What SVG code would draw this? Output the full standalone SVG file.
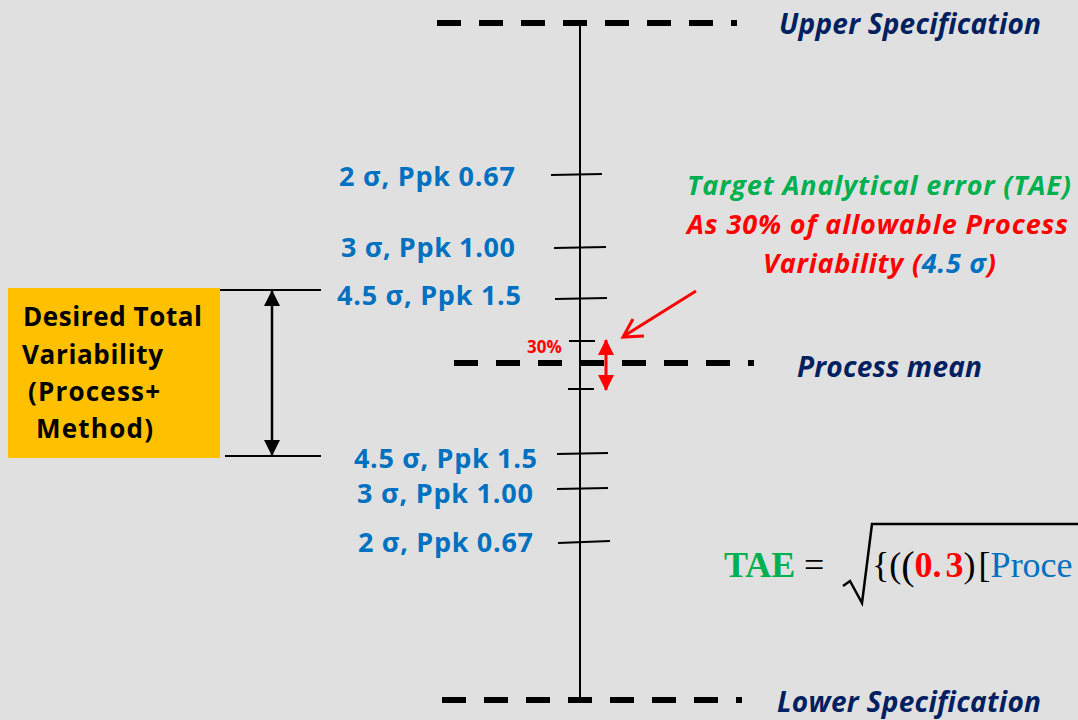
<svg xmlns="http://www.w3.org/2000/svg" width="1078" height="720" viewBox="0 0 1078 720">
<defs>
<style>
.dash{stroke:#000;stroke-width:6;stroke-dasharray:24 18;fill:none}
.ln{stroke:#000;stroke-width:2;fill:none}
.tick{stroke:#000;stroke-width:2;fill:none}
.spec{font-family:"Open Sans",sans-serif;font-weight:700;font-style:italic;font-size:28px;fill:#002060}
.lab{font-family:"Open Sans",sans-serif;font-weight:700;font-size:27px;fill:#0070C0}
.box{font-family:"Open Sans",sans-serif;font-weight:700;font-size:26px;fill:#000}
.note{font-family:"Open Sans",sans-serif;font-weight:700;font-style:italic;font-size:27px}
.math{font-family:"Liberation Serif","DejaVu Serif",serif;font-size:36px}
</style>
<marker id="bk" viewBox="0 0 16 16" refX="15" refY="8" markerWidth="16" markerHeight="16" markerUnits="userSpaceOnUse" orient="auto-start-reverse"><path d="M0,0 L16,8 L0,16 z" fill="#000"/></marker>
<marker id="rd" viewBox="0 0 16 16" refX="15" refY="8" markerWidth="16" markerHeight="16" markerUnits="userSpaceOnUse" orient="auto-start-reverse"><path d="M0,0 L16,8 L0,16 z" fill="#FF0000"/></marker>
</defs>
<rect width="1078" height="720" fill="#E0E0E0"/>

<g id="connectors">
<line class="ln" x1="580" y1="26" x2="580" y2="698"/>
<line class="dash" x1="437" y1="23" x2="737" y2="23"/>
<line class="dash" x1="454" y1="363" x2="754" y2="363"/>
<line class="dash" x1="442" y1="700" x2="742" y2="700"/>
<line class="tick" x1="551" y1="175" x2="602" y2="174"/>
<line class="tick" x1="554" y1="248" x2="606" y2="247"/>
<line class="tick" x1="555" y1="299" x2="607" y2="298"/>
<line class="tick" x1="569" y1="341" x2="595" y2="341"/>
<line class="tick" x1="568" y1="389" x2="594" y2="389"/>
<line class="tick" x1="557" y1="454" x2="608" y2="453"/>
<line class="tick" x1="557" y1="489" x2="608" y2="488"/>
<line class="tick" x1="558" y1="543" x2="610" y2="541"/>
<line class="ln" x1="220" y1="290" x2="321" y2="290"/>
<line class="ln" x1="225" y1="456" x2="321" y2="456"/>
<line stroke="#000" stroke-width="2.5" x1="272" y1="291" x2="272" y2="455" marker-start="url(#bk)" marker-end="url(#bk)"/>
<line stroke="#FF0000" stroke-width="3" x1="606" y1="340" x2="606" y2="390" marker-start="url(#rd)" marker-end="url(#rd)"/>
<path d="M696,291 L624,336 M633,319 L623,337 L644,336" stroke="#FF0000" stroke-width="3" fill="none" stroke-linejoin="miter"/>
</g>

<g id="spec-labels">
<text class="spec" x="779" y="34" textLength="262">Upper Specification</text>
<text class="spec" x="797" y="377" textLength="185">Process mean</text>
<text class="spec" x="777" y="712" textLength="264">Lower Specification</text>
</g>

<g id="sigma-labels">
<text class="lab" x="339" y="186" textLength="176">2 σ, Ppk 0.67</text>
<text class="lab" x="341" y="257" textLength="174">3 σ, Ppk 1.00</text>
<text class="lab" x="337" y="305" textLength="184">4.5 σ, Ppk 1.5</text>
<text class="lab" x="354" y="468" textLength="183">4.5 σ, Ppk 1.5</text>
<text class="lab" x="357" y="503" textLength="176">3 σ, Ppk 1.00</text>
<text class="lab" x="358" y="552" textLength="175">2 σ, Ppk 0.67</text>
</g>

<g id="desired-box">
<rect x="8" y="288" width="212" height="170" fill="#FFC000"/>
<text class="box" x="23" y="326" textLength="179">Desired Total</text>
<text class="box" x="22" y="364" textLength="141">Variability</text>
<text class="box" x="28" y="401" textLength="132">(Process+</text>
<text class="box" x="36" y="438" textLength="117">Method)</text>
</g>

<g id="pct-label">
<text x="527" y="353" font-family="Open Sans, sans-serif" font-weight="700" font-size="17" fill="#FF0000">30%</text>
</g>

<g id="tae-note">
<text class="note" x="687" y="195" fill="#00B050" textLength="384">Target Analytical error (TAE)</text>
<text class="note" x="687" y="234" fill="#FF0000" textLength="381">As 30% of allowable Process</text>
<text class="note" x="763" y="273" fill="#FF0000" textLength="233">Variability (<tspan fill="#0070C0">4.5 σ</tspan>)</text>
</g>

<g id="formula">
<text class="math" x="724" y="577" font-weight="700" fill="#00B050">TAE</text>
<text class="math" x="804" y="577" fill="#000">=</text>
<path d="M843,586 L850,581 L862,603 L872,524 L1078,524" stroke="#000" stroke-width="2.5" fill="none"/>
<text class="math" x="872" y="577" fill="#000">{(<tspan font-size="40" dy="2">(</tspan><tspan dy="-2" font-weight="700" fill="#FF0000">0.<tspan dx="4">3</tspan></tspan>)<tspan dx="3">[</tspan><tspan fill="#0070C0">Proce</tspan></text>
</g>
</svg>
